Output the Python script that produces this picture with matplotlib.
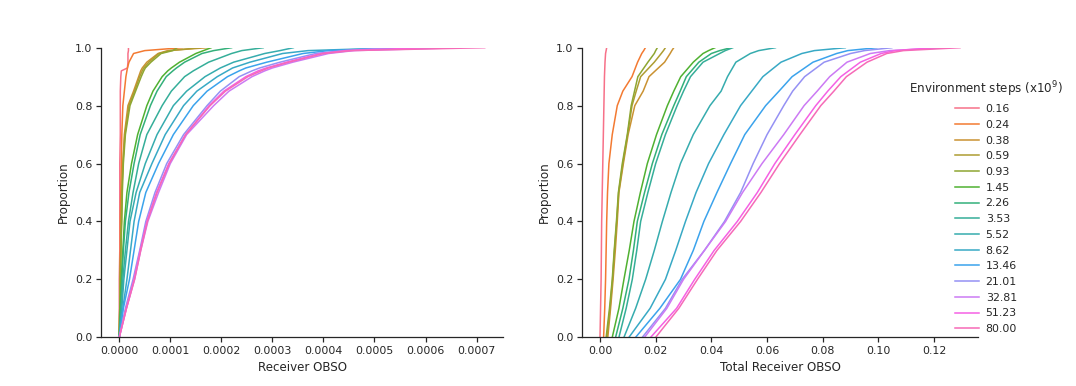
import numpy as np
import matplotlib
matplotlib.use("Agg")
import matplotlib.pyplot as plt
from matplotlib.ticker import FormatStrFormatter, MultipleLocator
import seaborn as sns

# ---------------- data ----------------
steps = ["0.16", "0.24", "0.38", "0.59", "0.93", "1.45", "2.26", "3.53",
         "5.52", "8.62", "13.46", "21.01", "32.81", "51.23", "80.00"]

# proportion levels at which quantiles were read (left panel)
left_props = [0, .1, .2, .3, .4, .5, .6, .7, .8, .85, .9, .92, .93, .95, .98, .99, 1.0]
left_unit = 1e-4  # left quantiles are stored in units of 1e-4
left_q = [
    [0.00, 0.00, 0.00, 0.01, 0.01, 0.01, 0.01, 0.02, 0.02, 0.02, 0.03, 0.04, 0.16, 0.17, 0.17, 0.18, 0.18],
    [0.00, 0.01, 0.01, 0.02, 0.02, 0.03, 0.04, 0.05, 0.07, 0.10, 0.13, 0.15, 0.16, 0.19, 0.28, 0.50, 1.23],
    [0.00, 0.01, 0.02, 0.03, 0.04, 0.05, 0.07, 0.10, 0.17, 0.28, 0.38, 0.42, 0.45, 0.54, 0.76, 0.95, 1.72],
    [0.00, 0.01, 0.02, 0.03, 0.04, 0.05, 0.07, 0.11, 0.19, 0.30, 0.40, 0.45, 0.48, 0.58, 0.78, 1.00, 1.58],
    [0.00, 0.01, 0.02, 0.03, 0.05, 0.06, 0.08, 0.12, 0.21, 0.32, 0.43, 0.48, 0.51, 0.62, 0.82, 1.05, 1.13],
    [0.00, 0.02, 0.04, 0.07, 0.10, 0.15, 0.24, 0.36, 0.54, 0.66, 0.84, 0.95, 1.02, 1.18, 1.50, 1.65, 1.80],
    [0.00, 0.03, 0.05, 0.08, 0.12, 0.19, 0.29, 0.41, 0.61, 0.74, 0.92, 1.05, 1.12, 1.28, 1.62, 1.85, 2.20],
    [0.00, 0.04, 0.07, 0.12, 0.18, 0.27, 0.38, 0.54, 0.84, 1.02, 1.28, 1.45, 1.55, 1.75, 2.20, 2.40, 2.82],
    [0.00, 0.05, 0.09, 0.15, 0.21, 0.33, 0.51, 0.74, 1.06, 1.32, 1.68, 1.88, 1.98, 2.24, 2.85, 3.15, 3.41],
    [0.00, 0.07, 0.15, 0.22, 0.29, 0.40, 0.64, 0.90, 1.26, 1.52, 1.92, 2.12, 2.22, 2.56, 3.20, 3.70, 5.50],
    [0.00, 0.08, 0.20, 0.29, 0.38, 0.52, 0.77, 1.06, 1.45, 1.72, 2.12, 2.35, 2.48, 2.89, 3.60, 4.10, 5.56],
    [0.00, 0.12, 0.27, 0.40, 0.52, 0.70, 0.93, 1.26, 1.72, 1.98, 2.35, 2.60, 2.75, 3.15, 3.85, 4.40, 5.30],
    [0.00, 0.14, 0.30, 0.42, 0.56, 0.77, 1.00, 1.32, 1.85, 2.15, 2.60, 2.85, 3.00, 3.40, 4.10, 4.60, 6.70],
    [0.00, 0.14, 0.29, 0.41, 0.54, 0.73, 0.97, 1.30, 1.76, 2.05, 2.48, 2.72, 2.88, 3.28, 3.95, 4.45, 6.00],
    [0.00, 0.14, 0.30, 0.42, 0.55, 0.74, 0.98, 1.30, 1.78, 2.08, 2.52, 2.78, 2.92, 3.32, 4.00, 4.55, 7.16],
]

# proportion levels at which quantiles were read (right panel)
right_props = [0, .1, .2, .3, .4, .5, .6, .7, .8, .85, .9, .95, .98, .99, 1.0]
right_q = [
    [0.0000, 0.0002, 0.0004, 0.0005, 0.0006, 0.0008, 0.0010, 0.0012, 0.0014, 0.0015, 0.0016, 0.0018, 0.0020, 0.0022, 0.0024],
    [0.0013, 0.0017, 0.0020, 0.0022, 0.0024, 0.0027, 0.0032, 0.0044, 0.0062, 0.0082, 0.0115, 0.0135, 0.0150, 0.0157, 0.0163],
    [0.0028, 0.0038, 0.0047, 0.0055, 0.0062, 0.0068, 0.0084, 0.0101, 0.0125, 0.0155, 0.0176, 0.0232, 0.0252, 0.0258, 0.0265],
    [0.0025, 0.0036, 0.0045, 0.0052, 0.0060, 0.0067, 0.0082, 0.0099, 0.0115, 0.0130, 0.0146, 0.0195, 0.0220, 0.0228, 0.0235],
    [0.0022, 0.0034, 0.0044, 0.0051, 0.0059, 0.0066, 0.0080, 0.0098, 0.0112, 0.0124, 0.0136, 0.0172, 0.0195, 0.0200, 0.0206],
    [0.0044, 0.0068, 0.0086, 0.0105, 0.0122, 0.0145, 0.0170, 0.0203, 0.0242, 0.0265, 0.0290, 0.0335, 0.0370, 0.0390, 0.0413],
    [0.0056, 0.0082, 0.0104, 0.0120, 0.0134, 0.0160, 0.0188, 0.0222, 0.0265, 0.0288, 0.0310, 0.0355, 0.0400, 0.0430, 0.0470],
    [0.0068, 0.0094, 0.0116, 0.0132, 0.0146, 0.0172, 0.0200, 0.0235, 0.0277, 0.0300, 0.0325, 0.0370, 0.0430, 0.0450, 0.0477],
    [0.0086, 0.0128, 0.0164, 0.0195, 0.0224, 0.0255, 0.0289, 0.0335, 0.0395, 0.0435, 0.0458, 0.0488, 0.0540, 0.0570, 0.0630],
    [0.0104, 0.0180, 0.0235, 0.0272, 0.0307, 0.0345, 0.0390, 0.0445, 0.0505, 0.0545, 0.0585, 0.0650, 0.0725, 0.0770, 0.0881],
    [0.0128, 0.0215, 0.0289, 0.0335, 0.0373, 0.0420, 0.0469, 0.0520, 0.0595, 0.0643, 0.0690, 0.0765, 0.0850, 0.0890, 0.0994],
    [0.0152, 0.0235, 0.0295, 0.0375, 0.0447, 0.0505, 0.0550, 0.0600, 0.0660, 0.0692, 0.0735, 0.0805, 0.0900, 0.0950, 0.1048],
    [0.0160, 0.0240, 0.0300, 0.0375, 0.0451, 0.0512, 0.0582, 0.0660, 0.0733, 0.0780, 0.0825, 0.0887, 0.0971, 0.1040, 0.1245],
    [0.0182, 0.0275, 0.0340, 0.0410, 0.0493, 0.0565, 0.0628, 0.0700, 0.0775, 0.0818, 0.0865, 0.0935, 0.1010, 0.1060, 0.1200],
    [0.0200, 0.0283, 0.0350, 0.0420, 0.0505, 0.0578, 0.0645, 0.0718, 0.0793, 0.0840, 0.0885, 0.0959, 0.1030, 0.1090, 0.1293],
]

x_labels = ["Receiver OBSO", "Total Receiver OBSO"]
legend_title = "Environment steps (x10$^{9}$)"

# ---------------- style ----------------
FS_TICK = 7.9
FS_LAB = 8.6
TXT = "#262626"
plt.rcParams.update({
    "font.family": ["DejaVu Sans"],
    "font.size": FS_TICK,
    "axes.edgecolor": TXT,
    "axes.labelcolor": TXT,
    "xtick.color": TXT,
    "ytick.color": TXT,
    "text.color": TXT,
})

colors = sns.husl_palette(len(steps))

fig = plt.figure(figsize=(10.76, 3.86), dpi=100)
ax_l = fig.add_axes([101 / 1076, 48.7 / 386, 402 / 1076, 289.6 / 386])
ax_r = fig.add_axes([582 / 1076, 48.7 / 386, 396 / 1076, 289.6 / 386])

handles = []
for i, lab in enumerate(steps):
    xl = np.array(left_q[i]) * left_unit
    ax_l.plot(xl, left_props, color=colors[i], lw=1.1)
    h, = ax_r.plot(right_q[i], right_props, color=colors[i], lw=1.1, label=lab)
    handles.append(h)

for ax, xlab in zip((ax_l, ax_r), x_labels):
    ax.set_ylim(0, 1)
    ax.margins(x=0.05)
    ax.spines["top"].set_visible(False)
    ax.spines["right"].set_visible(False)
    for s in ("left", "bottom"):
        ax.spines[s].set_linewidth(0.9)
    ax.tick_params(axis="both", direction="out", length=3.8, width=0.9,
                   pad=2.5, labelsize=FS_TICK)
    ax.yaxis.set_major_locator(MultipleLocator(0.2))
    ax.yaxis.set_major_formatter(FormatStrFormatter("%.1f"))
    ax.set_ylabel("Proportion", fontsize=FS_LAB, labelpad=3.5)
    ax.set_xlabel(xlab, fontsize=FS_LAB, labelpad=3.5)

ax_l.xaxis.set_major_locator(MultipleLocator(0.0001))
ax_l.xaxis.set_major_formatter(FormatStrFormatter("%.4f"))
ax_r.xaxis.set_major_locator(MultipleLocator(0.02))
ax_r.xaxis.set_major_formatter(FormatStrFormatter("%.2f"))

leg = fig.legend(handles=handles, title=legend_title, loc="center",
                 bbox_to_anchor=(986 / 1076, 1 - 206.5 / 386),
                 frameon=False, fontsize=FS_TICK, title_fontsize=FS_LAB,
                 handlelength=2.2, handletextpad=0.6, labelspacing=0.52)
for ln in leg.get_lines():
    ln.set_linewidth(1.1)

fig.savefig("out.png", dpi=100)
